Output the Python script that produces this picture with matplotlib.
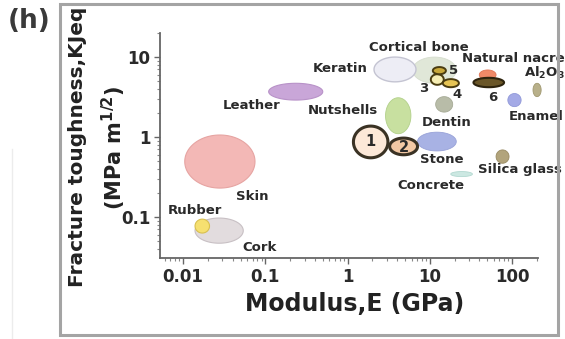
import numpy as np
import matplotlib
matplotlib.use("Agg")
import matplotlib.pyplot as plt
from matplotlib.patches import Rectangle
from matplotlib.lines import Line2D

plt.rcParams['font.family'] = ['DejaVu Sans']
plt.rcParams['font.weight'] = 'bold'
plt.rcParams['mathtext.default'] = 'bf'

# --- property ranges (modulus in GPa, toughness in MPa m^1/2) ---
materials = ['Skin', 'Cork', 'Rubber', 'Leather', 'Cortical bone', 'Keratin',
             'Nutshells', 'Dentin', 'Stone', '1', '2', 'Concrete',
             'Silica glass', 'Natural nacre', '6', 'Al2O3', 'Enamel',
             '3', '5', '4']
E_min = [0.0105, 0.014, 0.014, 0.11, 6.2, 2.1,
         2.9, 11.8, 7.1, 1.18, 3.25, 18,
         64, 40, 34, 180, 89,
         10.3, 10.9, 14.4]
E_max = [0.075, 0.054, 0.021, 0.50, 21, 6.8,
         5.9, 19, 21, 3.1, 7.1, 33,
         92, 64, 80, 226, 129,
         14.8, 15.7, 22.6]
K_min = [0.23, 0.047, 0.063, 2.9, 4.7, 4.9,
         1.1, 2.05, 0.67, 0.55, 0.60, 0.32,
         0.47, 5.2, 4.2, 3.2, 2.4,
         4.5, 6.1, 4.2]
K_max = [1.06, 0.097, 0.094, 4.7, 10, 10,
         3.1, 3.2, 1.15, 1.37, 0.97, 0.37,
         0.69, 6.9, 5.5, 4.7, 3.5,
         6.1, 7.5, 5.3]

fills = ['#f3b8b6', '#e2dcde', '#f6e070', '#c9a6d8', '#e0e7d8', '#ededf5',
         '#c8e0a0', '#b8bca8', '#a8b2e4', '#fce8d8', '#f2c8a4', '#cce8e2',
         '#b2a47c', '#f08a68', '#6a5628', '#b8b08a', '#a4aae6',
         '#f6eeb4', '#c8a83a', '#e6c454']
edges = ['#e6a4a2', '#c8c0c4', '#d8c050', '#b892c8', '#d6ddce', '#c4c4d2',
         '#b2d08a', '#a6aa96', '#98a2d8', '#3a3224', '#3a3224', '#b2d8d0',
         '#988a62', '#e07454', '#2e240e', '#a09870', '#9098d8',
         '#4a3c10', '#4a3c10', '#4a3c10']
edge_w = [0.8, 0.8, 0.8, 0.8, 0.6, 1.0,
          0.6, 0.6, 0.6, 2.2, 2.2, 0.6,
          0.6, 0.6, 1.5, 0.6, 0.6,
          1.4, 1.4, 1.4]

# --- text labels ---
label_text = ['Skin', 'Rubber', 'Cork', 'Leather', 'Keratin', 'Cortical bone',
              'Natural nacre', r'Al$_2$O$_3$', 'Enamel', 'Dentin', 'Nutshells',
              'Stone', 'Silica glass', 'Concrete', '3', '4', '5', '6', '1', '2']
label_E = [0.069, 0.014, 0.0845, 0.069, 0.82, 7.3,
           103, 245, 196, 16.1, 0.89,
           14, 125, 10.3, 8.45, 21.3, 19.6, 58.6, 1.9, 4.8]
label_K = [0.178, 0.119, 0.042, 2.5, 7.1, 13.3,
           9.7, 6.3, 1.83, 1.54, 2.17,
           0.53, 0.387, 0.25, 4.1, 3.45, 6.7, 3.16, 0.87, 0.75]

fig = plt.figure(figsize=(5.65, 3.39), dpi=100)
W, H = 565, 339

# panel frame
fig.patches.append(Rectangle((60 / W, 4 / H), 498 / W, 331 / H,
                             transform=fig.transFigure, fill=False,
                             edgecolor='#a4a4a4', linewidth=2.2))
fig.lines.append(Line2D([12 / W, 12 / W], [0, 190 / H], transform=fig.transFigure,
                        color='#ececec', linewidth=1))

ax = fig.add_axes([160 / W, 81 / H, 378 / W, 225 / H])
ax.set_xscale('log')
ax.set_yscale('log')
ax.set_xlim(0.00525, 207)
ax.set_ylim(0.0307, 20)

# ellipses are built in log space so they keep their shape on log axes
t = np.linspace(0, 2 * np.pi, 120)
for i in range(len(materials)):
    lx0, lx1 = np.log10(E_min[i]), np.log10(E_max[i])
    ly0, ly1 = np.log10(K_min[i]), np.log10(K_max[i])
    cx, cy = (lx0 + lx1) / 2, (ly0 + ly1) / 2
    rx, ry = (lx1 - lx0) / 2, (ly1 - ly0) / 2
    xs = 10 ** (cx + rx * np.cos(t))
    ys = 10 ** (cy + ry * np.sin(t))
    ax.fill(xs, ys, facecolor=fills[i], edgecolor=edges[i],
            linewidth=edge_w[i], clip_on=False, zorder=2 + i * 0.01)

for txt, ex, ky in zip(label_text, label_E, label_K):
    size = 10.5 if txt in ('1', '2') else 9.5
    ax.text(ex, ky, txt, ha='center', va='center', fontsize=size,
            fontweight='bold', color='#2a2a2a', clip_on=False, zorder=5)

for side in ('top', 'right'):
    ax.spines[side].set_visible(False)
for side in ('left', 'bottom'):
    ax.spines[side].set_color('#666666')
    ax.spines[side].set_linewidth(1.3)

ax.set_xticks([0.01, 0.1, 1, 10, 100])
ax.set_xticklabels(['0.01', '0.1', '1', '10', '100'])
ax.set_yticks([0.1, 1, 10])
ax.set_yticklabels(['0.1', '1', '10'])
ax.tick_params(which='major', length=4, width=1, color='#666666',
               labelsize=12, labelcolor='#2a2a2a', pad=3)
ax.tick_params(which='minor', length=2, width=0.8, color='#888888')
for lab in ax.get_xticklabels() + ax.get_yticklabels():
    lab.set_fontweight('bold')

fig.text(355 / W, 1 - 304 / H, 'Modulus,E (GPa)', ha='center', va='center',
         fontsize=17, fontweight='bold', color='#222222')
fig.text(78 / W, 1 - 147 / H, 'Fracture toughness,KJeq', rotation=90,
         ha='center', va='center', fontsize=14.5, fontweight='bold', color='#222222')
fig.text(114 / W, 1 - 148 / H, r'(MPa m$^{1/2}$)', rotation=90,
         ha='center', va='center', fontsize=15, fontweight='bold', color='#222222')
fig.text(8 / W, 1 - 21 / H, '(h)', ha='left', va='center',
         fontsize=19, fontweight='bold', color='#3a3a3a')

fig.savefig('out.png', dpi=100)
